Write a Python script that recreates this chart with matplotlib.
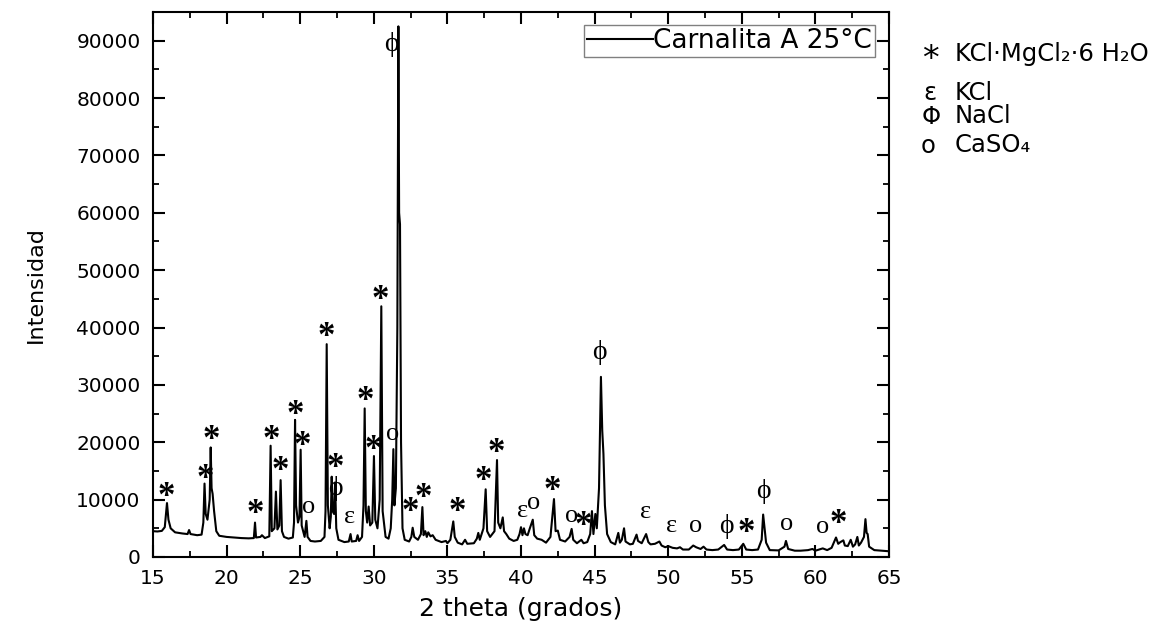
import matplotlib
matplotlib.use('Agg')
import matplotlib.pyplot as plt
from matplotlib.font_manager import FontProperties
from matplotlib.textpath import TextPath
from matplotlib.transforms import offset_copy
from matplotlib.ticker import MultipleLocator

# ---------------- data ----------------
two_theta = [
    15.00, 15.30, 15.60, 15.80, 15.95, 16.05, 16.20, 16.50, 17.00, 17.35, 17.45, 17.55,
    18.00, 18.30, 18.42, 18.50, 18.58, 18.70, 18.85, 18.92, 18.98, 19.05, 19.15, 19.30,
    19.50, 20.00, 20.50, 21.00, 21.50, 21.85, 21.93, 22.00, 22.30, 22.40, 22.60, 22.90,
    22.99, 23.07, 23.25, 23.35, 23.45, 23.58, 23.67, 23.76, 23.90, 24.20, 24.50, 24.58,
    24.65, 24.72, 24.85, 24.95, 25.03, 25.10, 25.30, 25.42, 25.50, 25.70, 26.00, 26.40,
    26.65, 26.72, 26.80, 26.88, 27.00, 27.08, 27.14, 27.20, 27.30, 27.37, 27.45, 27.60,
    28.00, 28.30, 28.42, 28.50, 28.80, 28.90, 29.00, 29.20, 29.30, 29.38, 29.46, 29.55,
    29.65, 29.75, 29.90, 30.01, 30.10, 30.25, 30.40, 30.51, 30.60, 30.80, 31.00, 31.15,
    31.25, 31.33, 31.40, 31.50, 31.60, 31.67, 31.72, 31.78, 31.85, 31.95, 32.10, 32.40,
    32.55, 32.64, 32.75, 33.00, 33.20, 33.30, 33.38, 33.50, 33.60, 33.70, 33.85, 34.00,
    34.20, 34.60, 34.90, 35.00, 35.20, 35.40, 35.50, 35.70, 36.00, 36.20, 36.35, 36.80,
    37.00, 37.10, 37.20, 37.45, 37.60, 37.70, 37.90, 38.20, 38.37, 38.45, 38.60, 38.76,
    38.85, 39.00, 39.20, 39.50, 39.75, 39.90, 40.00, 40.10, 40.20, 40.30, 40.45, 40.60,
    40.80, 40.90, 41.10, 41.40, 41.70, 42.00, 42.24, 42.35, 42.50, 42.65, 43.00, 43.30,
    43.44, 43.55, 43.80, 44.10, 44.25, 44.50, 44.70, 44.82, 44.92, 45.05, 45.15, 45.30,
    45.43, 45.52, 45.60, 45.70, 45.85, 46.10, 46.40, 46.61, 46.72, 46.85, 47.00, 47.10,
    47.40, 47.60, 47.85, 47.95, 48.20, 48.50, 48.65, 48.80, 49.10, 49.40, 49.55, 49.80,
    50.00, 50.30, 50.60, 50.80, 51.00, 51.40, 51.70, 51.90, 52.20, 52.40, 52.60, 53.00,
    53.40, 53.80, 54.00, 54.40, 54.80, 55.10, 55.30, 55.70, 56.10, 56.35, 56.45, 56.55,
    56.65, 56.90, 57.50, 57.90, 58.00, 58.15, 58.60, 59.00, 59.50, 59.80, 60.00, 60.50,
    60.80, 61.10, 61.40, 61.55, 61.70, 61.90, 62.00, 62.20, 62.40, 62.55, 62.70, 62.85,
    62.95, 63.10, 63.30, 63.40, 63.48, 63.55, 63.65, 64.00, 64.50, 65.00,
]
intensity = [
    4500, 4450, 4550, 5200, 9400, 6500, 5000, 4300, 4100, 4000, 4700, 4000,
    3800, 3900, 6000, 12800, 7500, 6500, 10000, 19100, 12000, 11000, 8000, 4500,
    3700, 3500, 3400, 3300, 3250, 3300, 6000, 3400, 3500, 3800, 3300, 3600,
    19400, 4500, 5000, 11400, 4800, 5500, 13400, 4500, 3500, 3200, 3400, 6000,
    23900, 9000, 6000, 7000, 18700, 5500, 3500, 6300, 3500, 2800, 2700, 2800,
    3500, 8000, 37100, 9000, 5000, 7000, 14000, 8000, 7500, 13000, 5000, 3000,
    2600, 2700, 4000, 2700, 2800, 3800, 2800, 3500, 9000, 25900, 8000, 6000,
    8800, 5500, 6000, 17600, 6500, 5000, 10000, 43700, 8000, 3500, 3200, 5000,
    10000, 18800, 9000, 12000, 40000, 92500, 60000, 58000, 20000, 5000, 3000, 2700,
    3500, 5100, 3500, 3000, 4000, 8700, 3800, 4500, 3500, 4300, 3600, 3800,
    3000, 2600, 2800, 2400, 3000, 6200, 3500, 2500, 2200, 3000, 2300, 2400,
    3200, 4200, 3000, 5000, 11800, 4500, 3500, 4500, 16900, 6000, 5000, 6900,
    4500, 4000, 3200, 2800, 3000, 4000, 5200, 3800, 5000, 4000, 3800, 5000,
    6500, 3800, 3200, 3000, 2500, 3500, 10100, 4500, 4600, 3000, 2700, 3500,
    4900, 3000, 2400, 3000, 2400, 2600, 4000, 8000, 4000, 7500, 5000, 12000,
    31400, 22000, 18000, 9000, 4000, 2600, 2200, 4200, 2500, 3000, 5000, 2700,
    2200, 2300, 3900, 2800, 2400, 4000, 2600, 2200, 2300, 2700, 2000, 1700,
    1900, 1600, 1500, 1700, 1300, 1300, 2000, 1700, 1400, 1800, 1300, 1200,
    1300, 2100, 1300, 1200, 1300, 2300, 1300, 1200, 1300, 3000, 7400, 5000,
    2500, 1200, 1150, 1800, 2800, 1400, 1100, 1100, 1200, 1400, 1100, 1500,
    1200, 1600, 3400, 2300, 2600, 2900, 2000, 1900, 3000, 1800, 2200, 3500,
    2000, 2500, 3500, 6600, 4200, 4000, 1800, 1200, 1100, 1000,
]

series_label = 'Carnalita A 25°C'

# phase markers placed on the peaks
ann_symbols = ['*', '*', '*', '*', '*', '*', '*', '*', 'o', '*', '*', 'ϕ', 'ε', '*', '*', 'o', '*', 'ϕ',
               '*', '*', '*', '*', '*', 'ε', 'o', '*', 'o', '*', 'ϕ', 'ε', 'ε', 'o', 'ϕ', '*', 'ϕ',
               'o', 'o', '*']
ann_x = [15.93, 18.58, 18.94, 21.93, 23.06, 23.63, 24.69, 25.14, 25.55, 26.80, 27.41, 27.41, 28.34,
         29.40, 29.97, 31.26, 30.47, 31.22, 32.46, 33.36, 35.70, 37.44, 38.35, 40.09, 40.88, 42.15,
         43.44, 44.23, 45.32, 48.49, 50.24, 51.89, 53.97, 55.29, 56.46, 58.05, 60.50, 61.56]
ann_y = [11810, 14880, 21680, 8770, 21680, 16340, 26110, 20700, 8670, 39590, 16790, 11980, 7030,
         28430, 19930, 21450, 46090, 89410, 9070, 11560, 9070, 14480, 19360, 8020, 9470, 12850,
         7200, 6750, 35630, 7900, 5460, 5460, 5280, 5410, 11390, 5760, 5280, 7030]

key_symbols = ['*', 'ε', 'Φ', 'o']
key_texts = ['KCl·MgCl₂·6 H₂O', 'KCl', 'NaCl', 'CaSO₄']

x_ticks = [15, 20, 25, 30, 35, 40, 45, 50, 55, 60, 65]
y_ticks = [0, 10000, 20000, 30000, 40000, 50000, 60000, 70000, 80000, 90000]

# ---------------- figure ----------------
W, H = 1164, 633
fig = plt.figure(figsize=(W / 100, H / 100), dpi=100)
ax = fig.add_axes([153 / W, (H - 557) / H, 736 / W, 545 / H])

ax.plot(two_theta, intensity, color='black', lw=1.5, label=series_label, zorder=3)
ax.set_xlim(15, 65)
ax.set_ylim(0, 95000)
ax.set_xticks(x_ticks)
ax.set_yticks(y_ticks)
ax.xaxis.set_minor_locator(MultipleLocator(2.5))
ax.yaxis.set_minor_locator(MultipleLocator(5000))
ax.tick_params(which='both', direction='in', top=True, right=True, labelsize=14.5)
ax.tick_params(which='major', length=8.5, width=1.5, pad=9)
ax.tick_params(which='minor', length=4.5, width=1.3)
for sp in ax.spines.values():
    sp.set_linewidth(1.5)

ax.set_xlabel('2 theta (grados)', fontsize=18, labelpad=6)
ax.set_ylabel('Intensidad', fontsize=16, labelpad=22)

leg = ax.legend(loc='upper right', bbox_to_anchor=(0.981, 0.976), borderaxespad=0,
                fontsize=19, handlelength=2.5, handletextpad=0.0, borderpad=0.12,
                fancybox=False, framealpha=1, edgecolor='#808080')
leg.get_frame().set_linewidth(1.0)


def centered_text(target, transform, s, x, y, fp, zorder=4):
    ext = TextPath((0, 0), s, prop=fp).get_extents()
    cx = (ext.x0 + ext.x1) / 2
    cy = (ext.y0 + ext.y1) / 2
    tr = offset_copy(transform, fig=fig, x=-cx, y=-cy, units='points')
    target.text(x, y, s, transform=tr, fontproperties=fp, ha='left', va='baseline',
                color='black', zorder=zorder)


fp_ast = FontProperties(family=['Liberation Serif', 'DejaVu Serif'], weight='bold', size=25)
fp_phi = FontProperties(family=['Liberation Serif', 'DejaVu Serif'], size=20)
fp_sym = FontProperties(family=['Liberation Serif', 'DejaVu Serif'], size=19)
for s, x, y in zip(ann_symbols, ann_x, ann_y):
    fp = fp_ast if s == '*' else (fp_phi if s == 'ϕ' else fp_sym)
    centered_text(ax, ax.transData, s, x, y, fp)

# phase key at the right
fp_key = FontProperties(family=['DejaVu Sans'], size=17.5)
fp_key_ast = FontProperties(family=['DejaVu Sans'], size=24)
key_sym_pos = [(930, 52), (929.5, 93.5), (931, 115), (928.5, 146)]
key_baselines = [61, 100, 123, 152]
for sym, txt, (sx, sy), base in zip(key_symbols, key_texts, key_sym_pos, key_baselines):
    centered_text(fig, fig.transFigure, sym, sx / W, 1 - sy / H,
                  fp_key_ast if sym == '*' else fp_key)
    fig.text(955 / W, 1 - base / H, txt, fontproperties=fp_key, ha='left', va='baseline')

fig.savefig('out.png', dpi=100)
